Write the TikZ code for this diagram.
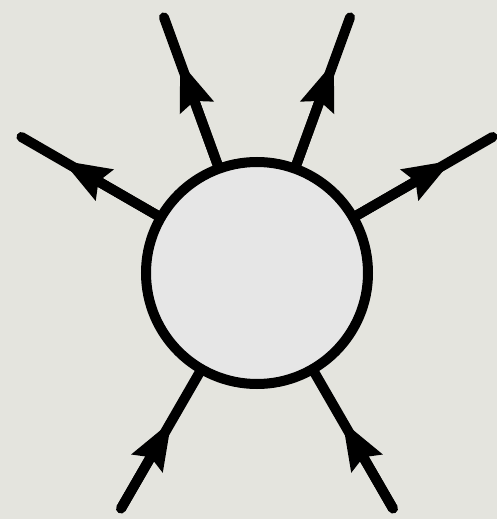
\documentclass[tikz,border=0pt]{standalone}
\usetikzlibrary{arrows.meta,calc}
\definecolor{bgcol}{RGB}{228,228,222}
\definecolor{ballfill}{RGB}{230,230,230}
\tikzset{
  ball/.style={circle,draw=black,fill=ballfill,line width=10pt,minimum size=222pt,inner sep=0pt},
  leg/.style={line width=10pt,line cap=round},
  headtip/.tip={Stealth[length=48pt,width=34pt,inset=6pt]},
  headseg/.style={line width=10pt,-{headtip}}
}
\begin{document}
\begin{tikzpicture}[x=1pt,y=1pt]
  \fill[bgcol] (-257,-246) rectangle (240,273);
  \useasboundingbox (-257,-246) rectangle (240,273);
  \coordinate (e1) at (150:272);
  \coordinate (e2) at (110:272);
  \coordinate (e3) at (70:272);
  \coordinate (e4) at (30:272);
  \coordinate (e5) at (240:272);
  \coordinate (e6) at (300:272);
  \node[ball] (c) at (0,0) {};
  \foreach \e/\a in {e1/150,e2/110,e3/70,e4/30}{
    \draw[leg] (c.\a) -- (\e);
    \draw[headseg] (c.\a) -- ($(c.\a)!0.70!(\e)$);
  }
  \foreach \e/\a in {e5/240,e6/300}{
    \draw[leg] (\e) -- (c.\a);
    \draw[headseg] (\e) -- ($(\e)!0.65!(c.\a)$);
  }
\end{tikzpicture}
\end{document}
